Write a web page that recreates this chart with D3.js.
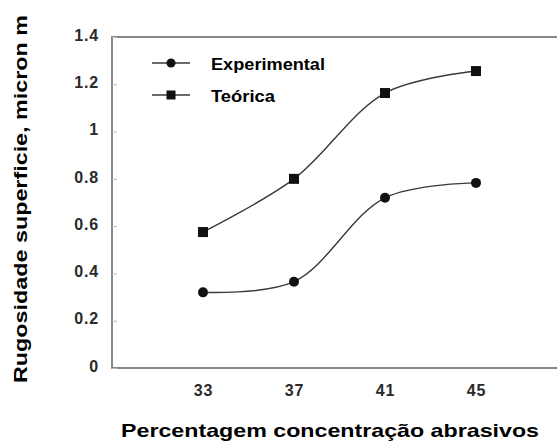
<!DOCTYPE html>
<html>
<head>
<meta charset="utf-8">
<script src="https://cdn.jsdelivr.net/npm/d3@7"></script>
<style>
  body { margin: 0; background: #fff; }
  svg { display: block; font-family: "Liberation Sans", Arial, sans-serif; }
</style>
</head>
<body>
<div id="chart"></div>
<script>
// chart values
var concentracao = [33, 37, 41, 45];
var experimental = [0.32, 0.365, 0.72, 0.783];
var teorica = [0.575, 0.80, 1.163, 1.256];
var yTicks = [0, 0.2, 0.4, 0.6, 0.8, 1, 1.2, 1.4];
var yTickLabels = ["0", "0.2", "0.4", "0.6", "0.8", "1", "1.2", "1.4"];
var seriesNames = ["Experimental", "Teórica"];

var W = 557, H = 444;
var svg = d3.select('#chart').append('svg').attr('width', W).attr('height', H);

// plot box runs off the right edge of the image
var x = d3.scaleLinear().domain([29, 49]).range([112, 567]);
var y = d3.scaleLinear().domain([0, 1.4]).range([368, 37]);

// frame (left, top, bottom)
svg.append('rect')
  .attr('x', x(29)).attr('y', y(1.4))
  .attr('width', x(49) - x(29)).attr('height', y(0) - y(1.4))
  .attr('fill', 'none').attr('stroke', '#6a6a6a').attr('stroke-width', 1.6);

// y axis
var yAxis = d3.axisLeft(y)
  .tickValues(yTicks)
  .tickFormat(function(d, i) { return yTickLabels[i]; })
  .tickSizeInner(-5).tickSizeOuter(0).tickPadding(13);
var gy = svg.append('g').attr('transform', 'translate(' + x(29) + ',0)').call(yAxis);
gy.select('.domain').remove();
gy.selectAll('.tick line').attr('stroke', '#bbb');
gy.selectAll('.tick text')
  .attr('dy', '0.2em')
  .style('font-size', '16px').style('font-weight', 'bold').style('letter-spacing', '0.8px')
  .attr('fill', '#2a2a2a');

// x axis
var xAxis = d3.axisBottom(x).tickValues(concentracao).tickSize(0).tickPadding(17)
  .tickFormat(d3.format('d'));
var gx = svg.append('g').attr('transform', 'translate(0,' + y(0) + ')').call(xAxis);
gx.select('.domain').remove();
gx.selectAll('.tick text')
  .style('font-size', '16px').style('font-weight', 'bold').style('letter-spacing', '0.8px')
  .attr('fill', '#2a2a2a');

// curves
var line = d3.line()
  .x(function(d, i) { return x(concentracao[i]); })
  .y(function(d) { return y(d); })
  .curve(d3.curveCatmullRom.alpha(0.5));

[experimental, teorica].forEach(function(s) {
  svg.append('path').datum(s).attr('d', line)
    .attr('fill', 'none').attr('stroke', '#3a3a3a').attr('stroke-width', 1.4);
});

svg.selectAll('circle.exp').data(experimental).enter().append('circle')
  .attr('class', 'exp')
  .attr('cx', function(d, i) { return x(concentracao[i]); })
  .attr('cy', function(d) { return y(d); })
  .attr('r', 5).attr('fill', '#111');

svg.selectAll('rect.teo').data(teorica).enter().append('rect')
  .attr('class', 'teo')
  .attr('x', function(d, i) { return x(concentracao[i]) - 5; })
  .attr('y', function(d) { return y(d) - 5; })
  .attr('width', 10).attr('height', 10).attr('fill', '#111');

// legend
var legY = [63, 95];
var lg = svg.append('g');
seriesNames.forEach(function(name, i) {
  lg.append('line').attr('x1', 152).attr('x2', 190).attr('y1', legY[i]).attr('y2', legY[i])
    .attr('stroke', '#3a3a3a').attr('stroke-width', 1.4);
  if (i === 0)
    lg.append('circle').attr('cx', 171).attr('cy', legY[i]).attr('r', 4.5).attr('fill', '#111');
  else
    lg.append('rect').attr('x', 166.5).attr('y', legY[i] - 4.5).attr('width', 9).attr('height', 9).attr('fill', '#111');
  lg.append('text').attr('x', 211).attr('y', legY[i] + 7)
    .attr('textLength', i === 0 ? 114 : 64).attr('lengthAdjust', 'spacingAndGlyphs')
    .style('font-size', '17px').style('font-weight', 'bold').attr('fill', '#000')
    .text(name);
});

// axis titles
svg.append('text')
  .attr('transform', 'translate(27,383) rotate(-90)')
  .attr('textLength', 368).attr('lengthAdjust', 'spacingAndGlyphs')
  .style('font-size', '19px').style('font-weight', 'bold')
  .text('Rugosidade superficie, micron m');

svg.append('text')
  .attr('x', 121).attr('y', 437)
  .attr('textLength', 418).attr('lengthAdjust', 'spacingAndGlyphs')
  .style('font-size', '18.5px').style('font-weight', 'bold')
  .text('Percentagem concentração abrasivos');
</script>
</body>
</html>
